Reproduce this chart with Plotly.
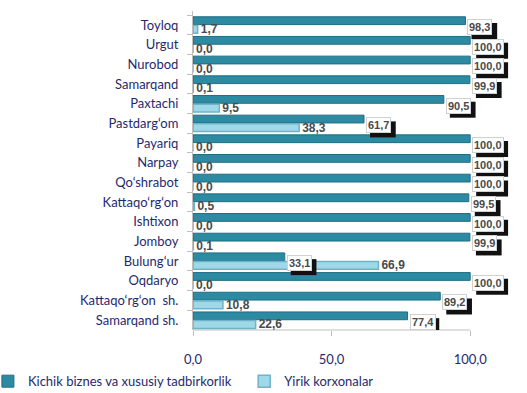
import plotly.graph_objects as go

categories = ["Toyloq", "Urgut", "Nurobod", "Samarqand", "Paxtachi", "Pastdarg‘om",
              "Payariq", "Narpay", "Qo‘shrabot", "Kattaqo‘rg‘on", "Ishtixon", "Jomboy",
              "Bulung‘ur", "Oqdaryo", "Kattaqo‘rg‘on  sh.", "Samarqand sh."]
small_business = [98.3, 100.0, 100.0, 99.9, 90.5, 61.7, 100.0, 100.0, 100.0, 99.5,
                  100.0, 99.9, 33.1, 100.0, 89.2, 77.4]
large_enterprises = [1.7, 0.0, 0.0, 0.1, 9.5, 38.3, 0.0, 0.0, 0.0, 0.5,
                     0.0, 0.1, 66.9, 0.0, 10.8, 22.6]
series_names = ["Kichik biznes va xususiy tadbirkorlik", "Yirik korxonalar"]
tick_vals = [0, 50, 100]
tick_text = ["0,0", "50,0", "100,0"]

def fmt(v):
    return f"{v:.1f}".replace(".", ",")

DARK = "#2C8AA3"
LIGHT = "#9ED8E9"
NAVY = "#1F2A6E"
LABEL = "#4A4A4A"
LFONT = "Liberation Sans"

fig = go.Figure()
fig.add_trace(go.Bar(
    y=categories, x=small_business, orientation="h", name=series_names[0],
    marker=dict(color=DARK, line=dict(color="#1F6E82", width=1)),
    cliponaxis=False, legend="legend",
))
fig.add_trace(go.Bar(
    y=categories, x=large_enterprises, orientation="h", name=series_names[1],
    marker=dict(color=LIGHT, line=dict(color="#6FB3C6", width=1.5)),
    text=[fmt(v) for v in large_enterprises], textposition="outside",
    constraintext="none",
    textfont=dict(family=LFONT, size=12, color=LABEL, weight="bold"),
    cliponaxis=False, legend="legend2",
))

shapes = []
annotations = []
for i, (c, v) in enumerate(zip(categories, small_business)):
    label = fmt(v)
    tw = sum(3.1 if ch == "," else 6.2 for ch in label)
    bw = tw + 4
    shapes.append(dict(
        type="rect", xref="x", yref="y", xsizemode="pixel", ysizemode="pixel",
        xanchor=v, yanchor=i, x0=6, x1=2 + bw + 4, y0=-14, y1=2,
        fillcolor="#111111", line=dict(width=0), layer="above",
    ))
    annotations.append(dict(
        x=v, y=c, xref="x", yref="y", text=label, showarrow=False,
        xanchor="left", yanchor="middle", xshift=2, yshift=-2,
        font=dict(family=LFONT, size=11, color=LABEL, weight="bold"),
        bgcolor="white", bordercolor="#D0D0D0", borderwidth=1, borderpad=1,
    ))

# x-axis baseline limited to the 0..100 scale
shapes.append(dict(type="line", xref="x", yref="paper", x0=tick_vals[0], x1=tick_vals[-1],
                   y0=0, y1=0, line=dict(color="#BFBFBF", width=1), layer="below"))

fig.update_layout(
    width=527, height=393,
    margin=dict(l=193, r=18, t=11, b=63, autoexpand=False),
    paper_bgcolor="white", plot_bgcolor="white",
    barmode="group", bargap=0.12, bargroupgap=0.1,
    font=dict(family="Lato", size=13, color=NAVY),
    showlegend=True,
    legend=dict(orientation="h", xref="paper", yref="container",
                x=-0.649, y=0.03, xanchor="left", yanchor="middle",
                font=dict(family="Lato", size=13, color=NAVY), itemwidth=30),
    legend2=dict(orientation="h", xref="paper", yref="container",
                 x=0.162, y=0.03, xanchor="left", yanchor="middle",
                 font=dict(family="Lato", size=13, color=NAVY), itemwidth=30),
    shapes=shapes,
    annotations=annotations,
    xaxis=dict(range=[0, 114], tickvals=tick_vals, ticktext=tick_text,
               showgrid=False, zeroline=False, showline=False, automargin=False,
               ticks="outside", ticklen=5, tickcolor="#BFBFBF", ticklabelstandoff=12,
               tickfont=dict(family="Lato", size=13, color=NAVY)),
    yaxis=dict(autorange="reversed", showgrid=False, showline=True, linecolor="#BFBFBF",
               ticks="outside", ticklen=5, tickcolor="#BFBFBF", tickson="boundaries",
               ticklabelstandoff=11, automargin=False,
               tickfont=dict(family="Lato", size=13, color=NAVY)),
)

fig.write_html("out.html", config={"displayModeBar": False},
               post_script="document.body.style.margin='0';")
